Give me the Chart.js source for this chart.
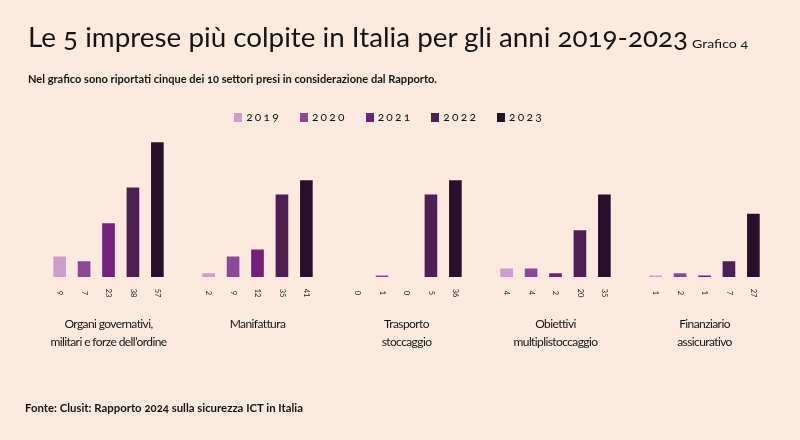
<!DOCTYPE html>
<html>
<head>
<meta charset="utf-8">
<script src="https://cdn.jsdelivr.net/npm/chart.js@4"></script>
<style>
  html, body { margin: 0; padding: 0; }
  body { width: 800px; height: 440px; background: #fdeadf; position: relative; overflow: hidden; font-family: Lato, 'Open Sans', sans-serif; color: #141414; }
  #chart-wrap { position: absolute; left: 0; top: 0; width: 800px; height: 440px; }
  .fit { position: absolute; white-space: nowrap; transform-origin: 0 0; font-variant-numeric: oldstyle-nums; }
  #title { left: 28px; top: 22px; font-size: 27px; line-height: 30px; font-weight: 400; }
  #grafico { left: 692px; top: 37px; font-size: 11px; line-height: 14px; }
  #subtitle { left: 28px; top: 71px; font-size: 12px; line-height: 15px; font-weight: 700; }
  #source { left: 25px; top: 400px; font-size: 12px; line-height: 15px; font-weight: 700; }
  #legend { position: absolute; left: 0; width: 778px; top: 110px; display: flex; justify-content: center; gap: 19px; font-size: 12px; line-height: 14px; letter-spacing: 2.2px; font-variant-numeric: oldstyle-nums; }
  #legend span.item { display: flex; align-items: center; }
  #legend i { display: inline-block; width: 8px; height: 9px; margin-right: 4px; }
</style>
</head>
<body>
<div id="chart-wrap"><canvas id="chart" width="800" height="440"></canvas></div>
<div id="title" class="fit" data-w="660">Le 5 imprese più colpite in Italia per gli anni 2019-2023</div>
<div id="grafico" class="fit" data-w="56">Grafico 4</div>
<div id="subtitle" class="fit" data-w="409">Nel grafico sono riportati cinque dei 10 settori presi in considerazione dal Rapporto.</div>
<div id="legend"></div>
<div id="source" class="fit" data-w="278">Fonte: Clusit: Rapporto 2024 sulla sicurezza ICT in Italia</div>
<script>
const sectors = [
  ['Organi governativi,', 'militari e forze dell\u2019ordine'],
  'Manifattura',
  ['Trasporto', 'stoccaggio'],
  ['Obiettivi', 'multiplistoccaggio'],
  ['Finanziario', 'assicurativo']
];
const years = ['2019', '2020', '2021', '2022', '2023'];
const colors = ['#cf9dcb', '#8d4797', '#74207c', '#4d1f55', '#2a0f2d'];

// bar heights
const values2019 = [9, 2, 0, 4, 1];
const values2020 = [7, 9, 1, 4, 2];
const values2021 = [23, 12, 0, 2, 1];
const values2022 = [38, 35, 35, 20, 7];
const values2023 = [57, 41, 41, 35, 27];

// numbers printed under the bars, as they appear
const labels2019 = ['9', '2', '0', '4', '1'];
const labels2020 = ['7', '9', '1', '4', '2'];
const labels2021 = ['23', '12', '0', '2', '1'];
const labels2022 = ['38', '35', '5', '20', '7'];
const labels2023 = ['57', '41', '36', '35', '27'];

const allValues = [values2019, values2020, values2021, values2022, values2023];
const allLabels = [labels2019, labels2020, labels2021, labels2022, labels2023];

// html legend
const legendElement = document.getElementById('legend');
years.forEach((year, i) => {
  const item = document.createElement('span');
  item.className = 'item';
  item.innerHTML = `<i style="background:${colors[i]}"></i>${year}`;
  legendElement.appendChild(item);
});

// squeeze the texts to the width they have in the picture
document.querySelectorAll('.fit').forEach((el) => {
  const target = parseFloat(el.dataset.w);
  const w = el.getBoundingClientRect().width;
  el.style.transform = `scaleX(${target / w})`;
});

const valueLabels = {
  id: 'valueLabels',
  beforeDraw(chart) {
    chart.ctx.letterSpacing = '-0.6px';
  },
  afterDatasetsDraw(chart) {
    const ctx = chart.ctx;
    ctx.save();
    ctx.letterSpacing = '0px';
    ctx.font = '7.5px Lato';
    ctx.fillStyle = '#222';
    ctx.textAlign = 'center';
    ctx.textBaseline = 'middle';
    chart.data.datasets.forEach((ds, di) => {
      chart.getDatasetMeta(di).data.forEach((bar, i) => {
        ctx.save();
        ctx.translate(bar.x, 293);
        ctx.rotate(Math.PI / 2);
        ctx.fillText(allLabels[di][i], 0, 0);
        ctx.restore();
      });
    });
    ctx.restore();
  }
};

new Chart(document.getElementById('chart').getContext('2d'), {
  type: 'bar',
  data: {
    labels: sectors,
    datasets: years.map((year, i) => ({
      label: year,
      data: allValues[i],
      backgroundColor: colors[i],
      borderColor: 'rgba(255,240,240,0.5)',
      borderWidth: 1,
      categoryPercentage: 0.82,
      barPercentage: 0.6
    }))
  },
  options: {
    responsive: false,
    animation: false,
    layout: { padding: { left: 34, right: 21, top: 134, bottom: 63 } },
    plugins: { legend: { display: false }, tooltip: { enabled: false } },
    scales: {
      x: {
        grid: { display: false },
        border: { display: false },
        afterFit: (scale) => { scale.height = 100; },
        ticks: {
          padding: 30,
          color: '#161616',
          font: { family: 'Lato', size: 12, lineHeight: 1.5 },
          maxRotation: 0,
          autoSkip: false
        }
      },
      y: { display: false, min: 0, max: 60 }
    }
  },
  plugins: [valueLabels]
});
</script>
</body>
</html>
